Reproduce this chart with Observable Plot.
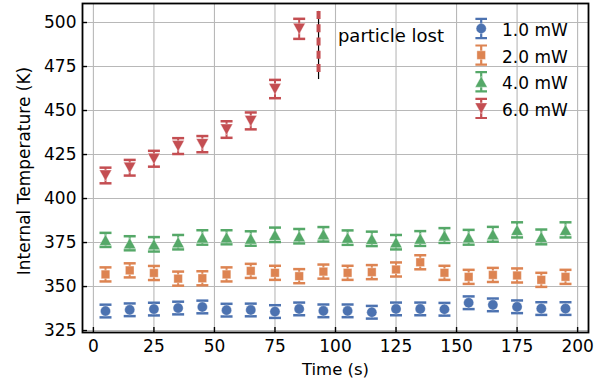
<!DOCTYPE html>
<html><head><meta charset="utf-8">
<script src="https://cdn.jsdelivr.net/npm/d3@7"></script>
<script src="https://cdn.jsdelivr.net/npm/@observablehq/plot@0.6"></script>
<style>html,body{margin:0;padding:0;background:#fff}</style>
</head><body><div id="chart"></div>
<script>
// ---- data ----
const times = [5,15,25,35,45,55,65,75,85,95,105,115,125,135,145,155,165,175,185,195];
const seriesNames = ["1.0 mW","2.0 mW","4.0 mW","6.0 mW"];
const seriesColors = ["#4c72b0","#dd8452","#55a868","#c44e52"];
const temp1mW = [336.1,336.8,337.2,337.8,338.4,336.6,336.7,335.8,337.3,336.2,336.2,335.4,337.3,337.3,337.1,340.8,339.6,338.5,337.5,337.5];
const err1mW  = [3.6,3.6,3.6,3.6,3.6,3.6,3.6,3.6,3.6,3.6,3.6,3.6,3.6,3.6,3.6,3.6,3.6,3.6,3.6,3.6];
const temp2mW = [356.9,359.2,357.7,354.5,354.7,356.9,358.9,357.8,355.9,358.5,357.8,358.2,359.7,363.8,357.8,355.5,356.6,356.3,353.8,355.5];
const err2mW  = [4.0,4.0,4.0,4.0,4.0,4.0,4.0,4.0,4.0,4.0,4.0,4.0,4.0,4.0,4.0,4.0,4.0,4.0,4.0,4.0];
const temp4mW = [376.5,374.6,374.0,375.2,377.9,378.0,377.3,379.4,378.6,379.7,377.8,377.1,375.2,377.3,379.0,378.0,379.7,382.2,378.2,382.2];
const err4mW  = [4.0,4.0,4.1,4.1,4.1,4.0,4.1,4.1,4.1,4.1,4.1,4.1,4.1,4.2,4.2,4.2,4.2,4.3,4.2,4.3];
const temp6mW = [413.1,417.5,422.6,429.8,430.9,439.2,444.1,462.2,496.4];
const err6mW  = [4.45,4.45,4.5,4.5,4.6,4.7,4.8,5.2,5.7];
const lostTime = 93;
const lostTop = 506.3, lostBottomRed = 470.4, lostBottomBlack = 467.6;
const lostLabel = "particle lost";
const lostLabelPos = {x: 101, y: 492.3};
const xTicks = [0,25,50,75,100,125,150,175,200];
const yTicks = [325,350,375,400,425,450,475,500];
const xDomain = [-4.5, 204.5];
const yDomain = [323.9, 510.8];

// ---- layout ----
const W = 609, H = 386;
const M = {top: 3, right: 21, bottom: 54, left: 82};
const innerW = W - M.left - M.right, innerH = H - M.top - M.bottom;
const FONT = "DejaVu Sans";

const temps = [temp1mW, temp2mW, temp4mW, temp6mW];
const errs = [err1mW, err2mW, err4mW, err6mW];
const rowsBySeries = temps.map((vals, i) => vals.map((v, j) => ({t: times[j], v, e: errs[i][j], s: seriesNames[i]})));

// custom symbols (size = r^2*pi)
const rad = (size) => Math.sqrt(size / Math.PI);
const capSym = {draw(ctx, size) { const r = rad(size); ctx.moveTo(-r, 0); ctx.lineTo(r, 0); }};
const circleSym = {draw(ctx, size) { const r = rad(size); ctx.moveTo(r, 0); ctx.arc(0, 0, r, 0, 2 * Math.PI); ctx.closePath(); }};
const squareSym = {draw(ctx, size) { const r = rad(size); ctx.rect(-r, -r, 2 * r, 2 * r); }};
const triUpSym = {draw(ctx, size) { const r = rad(size); const h = r * 0.9; ctx.moveTo(0, -h); ctx.lineTo(r, h); ctx.lineTo(-r, h); ctx.closePath(); }};
const triDownSym = {draw(ctx, size) { const r = rad(size); const h = r * 0.9; ctx.moveTo(0, h); ctx.lineTo(r, -h); ctx.lineTo(-r, -h); ctx.closePath(); }};
const legendBarSym = {draw(ctx, size) { const h = 9.6, w = 5.8; ctx.moveTo(0, -h); ctx.lineTo(0, h); ctx.moveTo(-w, -h); ctx.lineTo(w, -h); ctx.moveTo(-w, h); ctx.lineTo(w, h); }};
const symbols = [circleSym, squareSym, triUpSym, triDownSym];
const symbolR = [5.1, 4.3, 6.1, 6.1];

const marks = [
  Plot.gridX({ticks: xTicks, stroke: "#b8b8b8", strokeOpacity: 1, strokeWidth: 1.1}),
  Plot.gridY({ticks: yTicks, stroke: "#b8b8b8", strokeOpacity: 1, strokeWidth: 1.1}),
  Plot.axisX({ticks: xTicks, tickSize: 0, tickPadding: 7.5, fontSize: 17, label: null}),
  Plot.axisY({ticks: yTicks, tickSize: 0, tickPadding: 6, fontSize: 17, label: null}),
  Plot.tickX(xTicks, {x: d => d, insetTop: innerH - 5, stroke: "black", strokeWidth: 1.4}),
  Plot.tickY(yTicks, {y: d => d, insetRight: innerW - 5, stroke: "black", strokeWidth: 1.4})
];

rowsBySeries.forEach((rows, i) => {
  const col = seriesColors[i];
  marks.push(
    Plot.ruleX(rows, {x: "t", y1: d => d.v - d.e, y2: d => d.v + d.e, stroke: col, strokeWidth: 2}),
    Plot.dot(rows, {x: "t", y: d => d.v + d.e, symbol: capSym, r: 6, stroke: col, fill: "none", strokeWidth: 2.5}),
    Plot.dot(rows, {x: "t", y: d => d.v - d.e, symbol: capSym, r: 6, stroke: col, fill: "none", strokeWidth: 2.5}),
    Plot.dot(rows, {x: "t", y: "v", symbol: symbols[i], r: symbolR[i], fill: col, stroke: "white", strokeOpacity: 0.35, strokeWidth: 1})
  );
});

// particle lost marker
marks.push(
  Plot.ruleX([lostTime], {x: d => d, y1: lostTop, y2: lostBottomBlack, stroke: "black", strokeWidth: 1.2}),
  Plot.ruleX([lostTime], {x: d => d, y1: lostTop, y2: lostBottomRed, stroke: seriesColors[3], strokeWidth: 4, strokeDasharray: "8,5.3"}),
  Plot.text([lostLabel], {x: lostLabelPos.x, y: lostLabelPos.y, textAnchor: "start", lineAnchor: "middle", fontSize: 18, fill: "black"})
);

// legend
const legendGlyphY = [25, 51.6, 78.2, 104.9];
const legendTextY = [27.3, 53.9, 80.5, 107.2];
seriesNames.forEach((name, i) => {
  const col = seriesColors[i];
  marks.push(
    Plot.dot([name], {frameAnchor: "top-left", dx: 398.7, dy: legendGlyphY[i], symbol: legendBarSym, r: 1, stroke: col, fill: "none", strokeWidth: 2.2}),
    Plot.dot([name], {frameAnchor: "top-left", dx: 398.7, dy: legendGlyphY[i], symbol: symbols[i], r: symbolR[i], fill: col, stroke: "white", strokeOpacity: 0.35, strokeWidth: 1}),
    Plot.text([name], {frameAnchor: "top-left", dx: 419.5, dy: legendTextY[i], textAnchor: "start", lineAnchor: "middle", fontSize: 17, fill: "black"})
  );
});

// axis labels
marks.push(
  Plot.text(["Time (s)"], {frameAnchor: "bottom", dy: 37, textAnchor: "middle", lineAnchor: "middle", fontSize: 16.5, fill: "black"}),
  Plot.text(["Internal Temperature (K)"], {frameAnchor: "left", dx: -58, dy: 3, rotate: -90, textAnchor: "middle", lineAnchor: "middle", fontSize: 17, fill: "black"}),
  Plot.frame({stroke: "black", strokeWidth: 1.8})
);

const chart = Plot.plot({
  width: W, height: H,
  marginTop: M.top, marginRight: M.right, marginBottom: M.bottom, marginLeft: M.left,
  style: {fontFamily: FONT, fontSize: "17px", background: "white", color: "black"},
  x: {domain: xDomain},
  y: {domain: yDomain},
  marks
});
document.getElementById("chart").appendChild(chart);
</script>
</body></html>
